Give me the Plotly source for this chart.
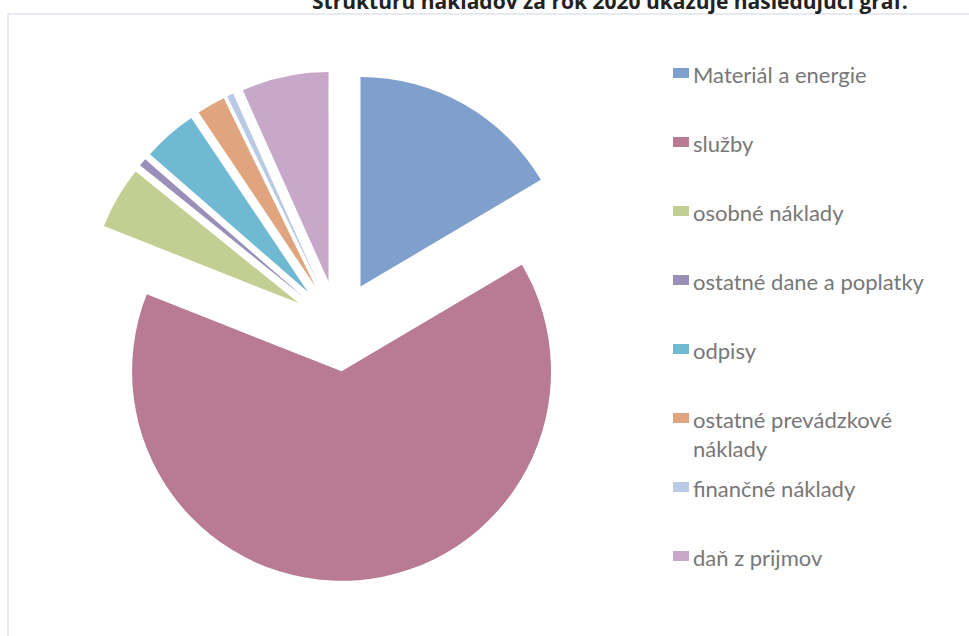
import plotly.graph_objects as go

labels = ["Materiál a energie", "služby", "osobné náklady", "ostatné dane a poplatky",
          "odpisy", "ostatné prevádzkové náklady", "finančné náklady", "daň z prijmov"]
legend_text = ["Materiál a energie", "služby", "osobné náklady", "ostatné dane a poplatky",
               "odpisy", "ostatné prevádzkové<br>náklady", "finančné náklady", "daň z prijmov"]
values = [16.5, 64.5, 4.8, 0.6, 4.2, 2.2, 0.5, 6.7]
colors = ["#7f9fcc", "#b97a94", "#c3cf92", "#9a8fb8", "#6fb9d3", "#e0a47e", "#b9cbe4", "#c7a8c8"]
title_text = "Štruktúru nákladov za rok 2020 ukazuje nasledujúci graf."

W, H = 969, 636

fig = go.Figure(go.Pie(
    labels=labels, values=values, sort=False, direction="clockwise", rotation=0,
    marker=dict(colors=colors, line=dict(width=0)),
    pull=[0.217] * len(values), textinfo="none", hoverinfo="label+percent",
    domain=dict(x=[0.0836, 0.614], y=[0.0866, 0.8883]),
))

shapes = [dict(type="rect", xref="paper", yref="paper", x0=8 / W, x1=1.01, y0=-0.01, y1=1 - 14 / H,
               line=dict(color="#dfe4ec", width=1.5), fillcolor="rgba(0,0,0,0)")]
annotations = [dict(text="<b>" + title_text + "</b>", xref="paper", yref="paper",
                    x=910 / W, y=1 - 1 / H, xanchor="right", yanchor="middle", showarrow=False,
                    font=dict(family="Open Sans", size=21, color="#222"))]

for i, (t, c) in enumerate(zip(legend_text, colors)):
    yc = 73 + 69 * i
    shapes.append(dict(type="rect", xref="paper", yref="paper", x0=673 / W, x1=689 / W,
                       y0=1 - (yc + 5) / H, y1=1 - (yc - 5) / H, line=dict(width=0), fillcolor=c))
    annotations.append(dict(text=t, xref="paper", yref="paper", x=691 / W, y=1 - (yc - 14) / H,
                            xanchor="left", yanchor="top", align="left", showarrow=False,
                            font=dict(family="Lato", size=22, color="#777777")))

fig.update_layout(width=W, height=H, margin=dict(l=0, r=0, t=0, b=0), showlegend=False,
                  paper_bgcolor="white", plot_bgcolor="white", shapes=shapes, annotations=annotations)
fig.write_html("out.html", config={"displayModeBar": False},
               post_script="document.body.style.margin='0';")
